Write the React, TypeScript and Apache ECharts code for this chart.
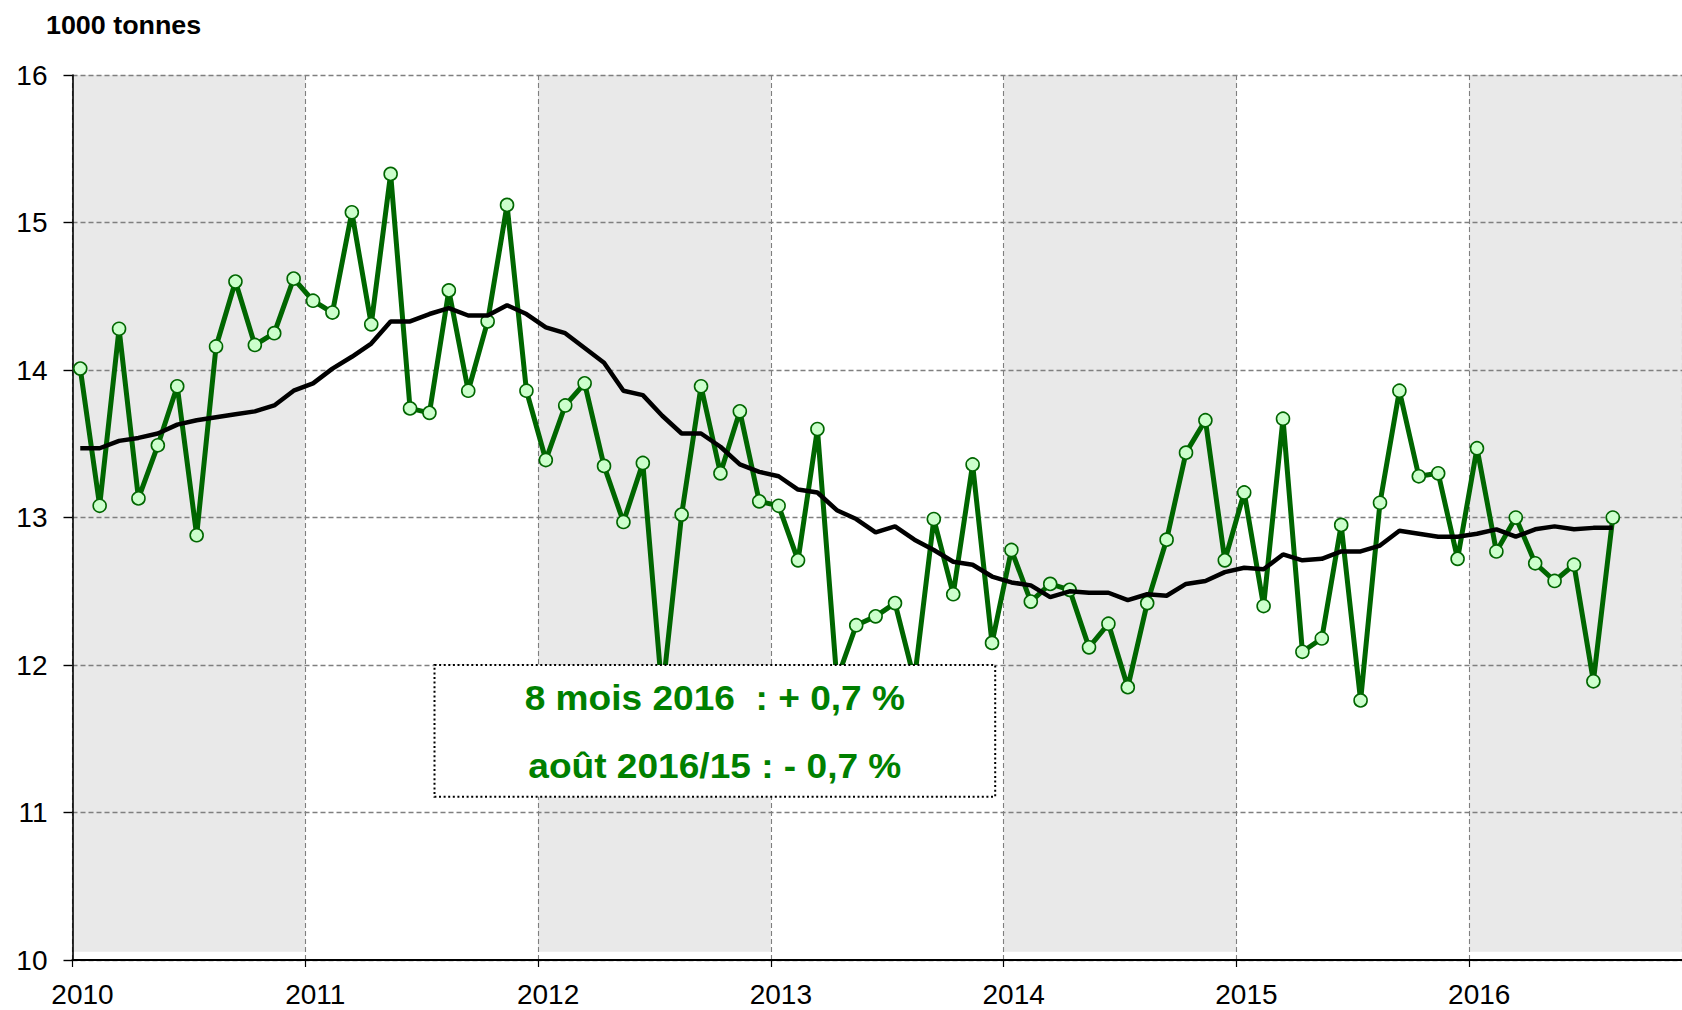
import React, { useEffect, useRef } from "react";
import * as echarts from "echarts";

// ---- Data ----
const startYear = 2010;
const monthOffset = 0.4; // position of a monthly point inside its month

const yearTicks = [2010, 2011, 2012, 2013, 2014, 2015, 2016];
const shadedYears = [2010, 2012, 2014, 2016];

// monthly values, 1000 tonnes
const prod2010 = [14.01, 13.08, 14.28, 13.13, 13.49, 13.89, 12.88, 14.16, 14.6, 14.17, 14.25, 14.62];
const prod2011 = [14.47, 14.39, 15.07, 14.31, 15.33, 13.74, 13.71, 14.54, 13.86, 14.33, 15.12, 13.86];
const prod2012 = [13.39, 13.76, 13.91, 13.35, 12.97, 13.37, 11.8, 13.02, 13.89, 13.3, 13.72, 13.11];
const prod2013 = [13.08, 12.71, 13.6, 11.9, 12.27, 12.33, 12.42, 11.9, 12.99, 12.48, 13.36, 12.15];
const prod2014 = [12.78, 12.43, 12.55, 12.51, 12.12, 12.28, 11.85, 12.42, 12.85, 13.44, 13.66, 12.71];
const prod2015 = [13.17, 12.4, 13.67, 12.09, 12.18, 12.95, 11.76, 13.1, 13.86, 13.28, 13.3, 12.72];
const prod2016 = [13.47, 12.77, 13.0, 12.69, 12.57, 12.68, 11.89, 13.0];

// 12-month moving average
const avg2010 = [13.47, 13.47, 13.52, 13.54, 13.57, 13.63, 13.66, 13.68, 13.7, 13.72, 13.76, 13.86];
const avg2011 = [13.91, 14.01, 14.09, 14.18, 14.33, 14.33, 14.38, 14.42, 14.37, 14.37, 14.44, 14.38];
const avg2012 = [14.29, 14.25, 14.15, 14.05, 13.86, 13.83, 13.69, 13.57, 13.57, 13.48, 13.36, 13.31];
const avg2013 = [13.28, 13.19, 13.17, 13.05, 12.99, 12.9, 12.94, 12.85, 12.78, 12.7, 12.68, 12.6];
const avg2014 = [12.56, 12.54, 12.46, 12.5, 12.49, 12.49, 12.44, 12.48, 12.47, 12.55, 12.57, 12.63];
const avg2015 = [12.66, 12.65, 12.75, 12.71, 12.72, 12.77, 12.77, 12.81, 12.91, 12.89, 12.87, 12.87];
const avg2016 = [12.89, 12.92, 12.87, 12.92, 12.94, 12.92, 12.93, 12.93];

const production = [...prod2010, ...prod2011, ...prod2012, ...prod2013, ...prod2014, ...prod2015, ...prod2016];
const movingAvg = [...avg2010, ...avg2011, ...avg2012, ...avg2013, ...avg2014, ...avg2015, ...avg2016];

const unitLabel = "1000 tonnes";
const noteLine1 = "8 mois 2016  : + 0,7 %";
const noteLine2 = "août 2016/15 : - 0,7 %";

const FONT = "'Liberation Sans', Arial, Helvetica, sans-serif";

const toPoints = (vals: number[]) =>
  vals.map((v, i) => [startYear + (i + monthOffset) / 12, v]);

export default function App() {
  const ref = useRef<HTMLDivElement>(null);

  useEffect(() => {
    if (!ref.current) return;
    const chart = echarts.init(ref.current, null, { renderer: "svg" });

    const yMin = 10;
    const yMax = 16;
    const bandBottom = 10.056;

    const option: any = {
      animation: false,
      backgroundColor: "#ffffff",
      textStyle: { fontFamily: FONT },
      grid: { left: 72.5, top: 75.1, right: 0, bottom: 50, containLabel: false },
      xAxis: {
        type: "value",
        min: 2010,
        max: 2016.914,
        interval: 1,
        z: 3,
        axisLine: { show: true, lineStyle: { color: "#000", width: 2.2 } },
        axisTick: { show: true, length: 7, lineStyle: { color: "#000", width: 1.2 } },
        axisLabel: {
          show: true,
          showMaxLabel: false,
          margin: 20,
          fontSize: 28,
          color: "#000",
          fontFamily: FONT,
          padding: [0, 0, 0, 20],
          formatter: (v: number) => (yearTicks.includes(v) ? String(v) : ""),
        },
        splitLine: {
          show: true,
          lineStyle: { color: "#7f7f7f", width: 1.1, type: [5, 3] },
        },
      },
      yAxis: {
        type: "value",
        min: yMin,
        max: yMax,
        interval: 1,
        z: 3,
        axisLine: { show: true, lineStyle: { color: "#000", width: 1.6 } },
        axisTick: { show: true, length: 9, lineStyle: { color: "#000", width: 1.4 } },
        axisLabel: { margin: 25, fontSize: 28, color: "#000", fontFamily: FONT },
        splitLine: {
          show: true,
          lineStyle: { color: "#7f7f7f", width: 1.4, type: [5, 3] },
        },
      },
      series: [
        {
          type: "custom",
          z: 1,
          clip: true,
          silent: true,
          data: shadedYears.map((y) => [y, y + 1, yMax, bandBottom]),
          encode: { x: [0, 1], y: [2, 3] },
          renderItem: (params: any, api: any) => {
            const p0 = api.coord([api.value(0), api.value(2)]);
            const p1 = api.coord([api.value(1), api.value(3)]);
            return {
              type: "rect",
              shape: { x: p0[0], y: p0[1], width: p1[0] - p0[0], height: p1[1] - p0[1] },
              style: { fill: "#e9e9e9" },
            };
          },
        },
        {
          type: "line",
          z: 5,
          data: toPoints(production),
          showAllSymbol: true,
          symbol: "circle",
          symbolSize: 13,
          itemStyle: { color: "#ccffcc", borderColor: "#006600", borderWidth: 1.6 },
          lineStyle: { color: "#006600", width: 5 },
        },
        {
          type: "line",
          z: 6,
          data: toPoints(movingAvg),
          symbol: "none",
          lineStyle: { color: "#000000", width: 4.5 },
        },
      ],
      graphic: [
        {
          type: "text",
          z: 100,
          x: 46,
          y: 25,
          scaleX: 1.075,
          style: {
            text: unitLabel,
            font: `bold 25px ${FONT}`,
            fill: "#000",
            align: "left",
            verticalAlign: "middle",
          },
        },
        {
          type: "group",
          z: 100,
          children: [
            {
              type: "rect",
              z: 100,
              shape: { x: 434.5, y: 665, width: 560.7, height: 131.7 },
              style: { fill: "#ffffff", stroke: "#000", lineWidth: 2, lineDash: [2, 2.6] },
            },
            {
              type: "text",
              z: 101,
              x: 714.8,
              y: 697.5,
              scaleX: 1.06,
              style: {
                text: noteLine1,
                font: `bold 35px ${FONT}`,
                fill: "#008000",
                align: "center",
                verticalAlign: "middle",
              },
            },
            {
              type: "text",
              z: 101,
              x: 714.8,
              y: 765.5,
              scaleX: 1.06,
              style: {
                text: noteLine2,
                font: `bold 35px ${FONT}`,
                fill: "#008000",
                align: "center",
                verticalAlign: "middle",
              },
            },
          ],
        },
      ],
    };

    chart.setOption(option);
    return () => {
      chart.dispose();
    };
  }, []);

  return (
    <div
      ref={ref}
      style={{ position: "fixed", left: 0, top: 0, width: 1682, height: 1010, background: "#fff" }}
    />
  );
}
